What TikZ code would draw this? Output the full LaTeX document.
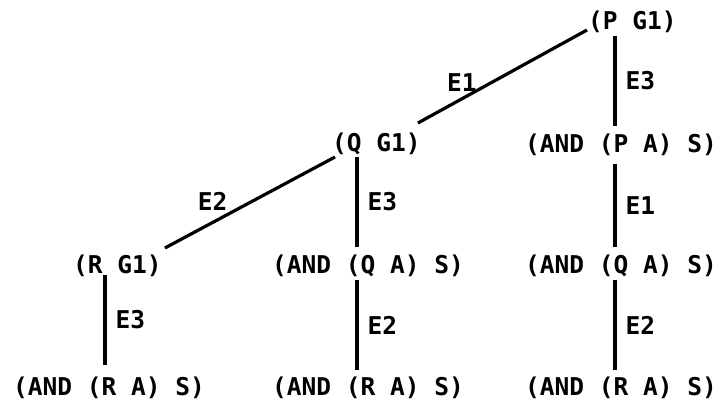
\documentclass[tikz,border=0pt]{standalone}
\usepackage{fontspec}
\newfontfamily\plotfont{DejaVu Sans Mono}
\usetikzlibrary{calc,positioning}

\tikzset{
  term/.style={anchor=base west, inner sep=0pt, font=\plotfont\bfseries\fontsize{24.5}{26}\selectfont},
  elabel/.style={inner sep=0pt, font=\plotfont\bfseries\fontsize{24.5}{26}\selectfont},
  edge/.style={line width=3.2pt}
}

\begin{document}
\begin{tikzpicture}[x=1pt, y=-1pt]
\useasboundingbox (0,0) rectangle (717,402);

% goals
\node[term] (pg1) at (588,29) {(P G1)};
\node[term] (qg1) at (332,151) {(Q G1)};
\node[term] (rg1) at (73,273) {(R G1)};

% subgoals
\node[term] (pa) at (525,152) {(AND (P A) S)};
\node[term] (qa1) at (272,273) {(AND (Q A) S)};
\node[term] (qa2) at (525,273) {(AND (Q A) S)};
\node[term] (ra1) at (13,395) {(AND (R A) S)};
\node[term] (ra2) at (272,395) {(AND (R A) S)};
\node[term] (ra3) at (525,395) {(AND (R A) S)};

% diagonal steps
\draw [edge] ($(pg1.base west)+(-1,1)$) to
  node[elabel, pos=0.74, above=6pt] {E1} ($(qg1.base east)+(-3,-28)$);
\draw [edge] ($(qg1.base west)+(3,6)$) to
  node[elabel, pos=0.72, above=10pt] {E2} ($(rg1.base east)+(3,-25)$);

% vertical steps
\draw [edge] ($(pg1.base west)+(27,7)$) to
  node[elabel, right=9pt] {E3} ($(pa.base west)+(90,-26)$);
\draw [edge] ($(pa.base west)+(90,12)$) to
  node[elabel, right=9pt] {E1} ($(qa2.base west)+(90,-26)$);
\draw [edge] ($(qa2.base west)+(90,7)$) to
  node[elabel, right=9pt] {E2} ($(ra3.base west)+(90,-25)$);

\draw [edge] ($(qg1.base west)+(25,6)$) to
  node[elabel, right=9pt] {E3} ($(qa1.base west)+(85,-26)$);
\draw [edge] ($(qa1.base west)+(85,7)$) to
  node[elabel, right=9pt] {E2} ($(ra2.base west)+(85,-25)$);

\draw [edge] ($(rg1.base west)+(32,2)$) to
  node[elabel, right=9pt] {E3} ($(ra1.base west)+(92,-30)$);

\end{tikzpicture}
\end{document}
